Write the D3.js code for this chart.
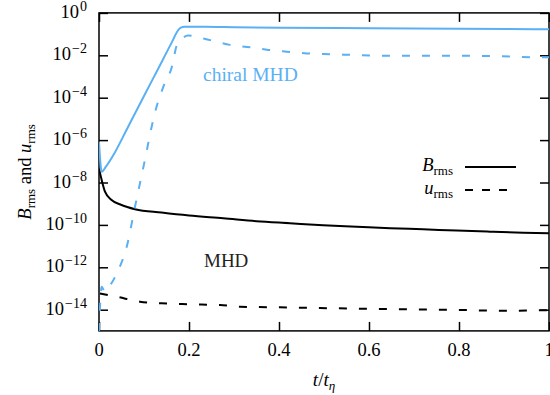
<!DOCTYPE html>
<html lang="en">
    <head>
        <meta charset="utf-8">
        <title>D3: Brms and urms</title>
        <script type="text/javascript" src="https://cdn.jsdelivr.net/npm/d3@7"></script>
        <style type="text/css">
            body {
                margin: 0;
                background: #fff;
            }
            text {
                font-family: "Liberation Serif", "DejaVu Serif", serif;
                fill: #000;
            }
            .tick line {
                stroke: #000;
                stroke-width: 1.5px;
            }
            .curve {
                fill: none;
                stroke-width: 2px;
            }
        </style>
    </head>
    <body>
        <script type="text/javascript">

            //Data
            var xTicks = [0, 0.2, 0.4, 0.6, 0.8, 1];
            var xTickLabels = ["0", "0.2", "0.4", "0.6", "0.8", "1"];
            var yExponents = [0, -2, -4, -6, -8, -10, -12, -14];

            //chiral MHD, B_rms
            var tChiralB = [0, 0.006, 0.015, 0.0356, 0.065, 0.102, 0.139, 0.162, 0.176, 0.182, 0.19, 0.236, 0.3, 0.4, 0.6, 0.8, 1.0];
            var chiralB  = [8.3e-7, 3.2e-8, 5.5e-8, 2.7e-7, 4.4e-6, 1.45e-4, 4.7e-3, 0.042, 0.155, 0.2, 0.22, 0.22, 0.21, 0.2, 0.19, 0.18, 0.17];

            //chiral MHD, u_rms
            var tChiralU = [0, 0.006, 0.0133, 0.028, 0.043, 0.0616, 0.08, 0.091, 0.102, 0.117, 0.128, 0.143, 0.162, 0.173, 0.184, 0.198, 0.247, 0.291, 0.336, 0.376, 0.417, 0.462, 0.513, 0.558, 0.624, 0.773, 0.847, 0.92, 0.964, 1.0];
            var chiralU  = [1e-15, 1.2e-13, 7e-14, 1.8e-13, 7.4e-13, 9.3e-12, 7.2e-10, 9.1e-9, 1.15e-7, 4.3e-6, 3.8e-5, 3.3e-4, 2.9e-3, 0.031, 0.06, 0.085, 0.052, 0.031, 0.024, 0.018, 0.0148, 0.0123, 0.0112, 0.0105, 0.0095, 0.0095, 0.0093, 0.0087, 0.0081, 0.008];

            //MHD, B_rms
            var tMhdB = [0, 0.006, 0.0133, 0.028, 0.05, 0.08, 0.139, 0.2, 0.276, 0.35, 0.424, 0.498, 0.573, 0.647, 0.72, 0.795, 0.869, 0.943, 1.0];
            var mhdB  = [4.5e-8, 1.3e-8, 3.7e-9, 1.5e-9, 8.7e-10, 5.5e-10, 3.8e-10, 2.75e-10, 2.05e-10, 1.5e-10, 1.2e-10, 9.6e-11, 8.2e-11, 7.0e-11, 6.2e-11, 5.4e-11, 4.8e-11, 4.3e-11, 4.0e-11];

            //MHD, u_rms
            var tMhdU = [0.002, 0.039, 0.091, 0.139, 0.2, 0.269, 0.313, 0.402, 0.491, 0.58, 0.669, 0.802, 0.891, 1.0];
            var mhdU  = [5.8e-14, 4.1e-14, 2.4e-14, 2.0e-14, 1.8e-14, 1.66e-14, 1.38e-14, 1.29e-14, 1.2e-14, 1.12e-14, 1.05e-14, 9.7e-15, 8.9e-15, 9.5e-15];

            var blue = "#5ab0f5";

            //Width and height
            var w = 550;
            var h = 395;
            var plotL = 99, plotR = 549, plotT = 12.9, plotB = 330.9;

            var svg = d3.select("body")
                        .append("svg")
                        .attr("width", w)
                        .attr("height", h);

            var x = d3.scaleLinear().domain([0, 1]).range([plotL, plotR]);
            var y = d3.scaleLog().domain([1e-15, 1]).range([plotB, plotT]);
            var yTicks = yExponents.map(function(e) { return Math.pow(10, e); });

            svg.append("clipPath")
               .attr("id", "plot")
               .append("rect")
               .attr("x", plotL)
               .attr("y", plotT)
               .attr("width", plotR - plotL)
               .attr("height", plotB - plotT);

            //Inward ticks on all four sides
            svg.append("g")
               .attr("transform", "translate(0," + plotB + ")")
               .call(d3.axisBottom(x).tickValues(xTicks).tickSize(-9).tickFormat(""));
            svg.append("g")
               .attr("transform", "translate(0," + plotT + ")")
               .call(d3.axisTop(x).tickValues(xTicks).tickSize(-9).tickFormat(""));
            svg.append("g")
               .attr("transform", "translate(" + plotL + ",0)")
               .call(d3.axisLeft(y).tickValues(yTicks).tickSize(-9).tickFormat(""));
            svg.append("g")
               .attr("transform", "translate(" + plotR + ",0)")
               .call(d3.axisRight(y).tickValues(yTicks).tickSize(-9).tickFormat(""));
            svg.selectAll(".domain").remove();

            //Frame
            svg.append("rect")
               .attr("x", plotL)
               .attr("y", plotT)
               .attr("width", plotR - plotL)
               .attr("height", plotB - plotT)
               .style("fill", "none")
               .style("stroke", "#000")
               .style("stroke-width", 1.5);

            //X tick labels
            svg.selectAll(".xlabel")
               .data(xTicks)
               .enter()
               .append("text")
               .attr("class", "xlabel")
               .attr("x", function(d) { return x(d); })
               .attr("y", 356)
               .attr("text-anchor", "middle")
               .style("font-size", "18.5px")
               .text(function(d, i) { return xTickLabels[i]; });

            //Y tick labels, 10 with a superscript
            var ylab = svg.selectAll(".ylabel")
               .data(yExponents)
               .enter()
               .append("text")
               .attr("class", "ylabel")
               .attr("x", 87)
               .attr("y", function(d) { return y(Math.pow(10, d)) + 5; })
               .attr("text-anchor", "end")
               .style("font-size", "18.5px");
            ylab.append("tspan").text("10");
            ylab.append("tspan")
                .attr("dy", -7)
                .attr("dx", 1)
                .style("font-size", "14px")
                .text(function(d) { return d === 0 ? "0" : "\u2212" + (-d); });

            //Curves
            var line = d3.line()
                         .x(function(d) { return x(d[0]); })
                         .y(function(d) { return y(d[1]); })
                         .curve(d3.curveMonotoneX);

            var curves = [
                {t: tMhdB, v: mhdB, color: "#000", dash: null},
                {t: tMhdU, v: mhdU, color: "#000", dash: "8,12"},
                {t: tChiralB, v: chiralB, color: blue, dash: null},
                {t: tChiralU, v: chiralU, color: blue, dash: "8,12"}
            ];

            svg.append("g")
               .attr("clip-path", "url(#plot)")
               .selectAll("path")
               .data(curves)
               .enter()
               .append("path")
               .attr("class", "curve")
               .attr("d", function(c) { return line(d3.zip(c.t, c.v)); })
               .style("stroke", function(c) { return c.color; })
               .style("stroke-dasharray", function(c) { return c.dash; });

            //Annotations
            svg.append("text")
               .attr("x", 203)
               .attr("y", 81)
               .style("font-size", "19.5px")
               .style("fill", blue)
               .text("chiral MHD");
            svg.append("text")
               .attr("x", 204)
               .attr("y", 267)
               .style("font-size", "19px")
               .style("fill", "#222")
               .text("MHD");

            //Legend
            var legend = [
                {base: "B", y: 171, dash: null},
                {base: "u", y: 194, dash: "8,9"}
            ];
            legend.forEach(function(l) {
                var t = svg.append("text")
                           .attr("x", 453)
                           .attr("y", l.y)
                           .attr("text-anchor", "end")
                           .style("font-size", "18.5px");
                t.append("tspan").style("font-style", "italic").text(l.base);
                t.append("tspan").attr("dy", 4).style("font-size", "13px").text("rms");
                svg.append("line")
                   .attr("x1", 465)
                   .attr("x2", 516)
                   .attr("y1", l.y - 4)
                   .attr("y2", l.y - 4)
                   .style("stroke", "#000")
                   .style("stroke-width", 2)
                   .style("stroke-dasharray", l.dash);
            });

            //Axis titles
            var xt = svg.append("text")
                        .attr("x", 324)
                        .attr("y", 386)
                        .attr("text-anchor", "middle")
                        .style("font-size", "19px");
            xt.append("tspan").style("font-style", "italic").text("t");
            xt.append("tspan").text("/");
            xt.append("tspan").style("font-style", "italic").text("t");
            xt.append("tspan").attr("dy", 4).style("font-size", "13px").style("font-style", "italic").text("\u03b7");

            var yt = svg.append("text")
                        .attr("transform", "translate(31," + ((plotT + plotB) / 2) + ") rotate(-90)")
                        .attr("text-anchor", "middle")
                        .style("font-size", "18.5px");
            yt.append("tspan").style("font-style", "italic").text("B");
            yt.append("tspan").attr("dy", 4).style("font-size", "13px").text("rms");
            yt.append("tspan").attr("dy", -4).text(" and ");
            yt.append("tspan").style("font-style", "italic").text("u");
            yt.append("tspan").attr("dy", 4).style("font-size", "13px").text("rms");

        </script>
    </body>
</html>
